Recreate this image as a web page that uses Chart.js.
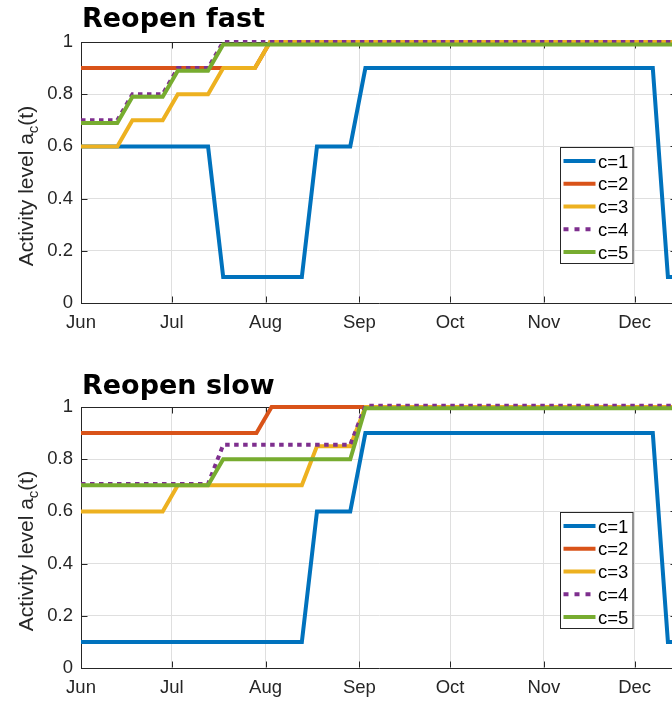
<!DOCTYPE html>
<html>
<head>
<meta charset="utf-8">
<script src="https://cdn.jsdelivr.net/npm/chart.js@4/dist/chart.umd.min.js"></script>
<style>
html,body{margin:0;padding:0;background:#fff;overflow:hidden;width:672px;height:702px;position:relative;}
.wrap{position:absolute;left:0;width:700px;height:351px;}
#w1{top:0;}
#w2{top:365px;}
canvas{display:block;}
</style>
</head>
<body>
<div class="wrap" id="w1"><canvas id="c1" width="700" height="351"></canvas></div>
<div class="wrap" id="w2"><canvas id="c2" width="700" height="351"></canvas></div>
<script>
// ---------- data (x = days since 1 June) ----------
const monthLabels = ['Jun', 'Jul', 'Aug', 'Sep', 'Oct', 'Nov', 'Dec'];
const monthStartDays = [0, 30, 61, 92, 122, 153, 183];
const xMaxDay = 197;
const seriesNames = ['c=1', 'c=2', 'c=3', 'c=4', 'c=5'];
const seriesColors = ['#0072BD', '#D95319', '#EDB120', '#7E2F8E', '#77AC30'];
const plotTitles = ['Reopen fast', 'Reopen slow'];
const yAxisLabel = ['Activity level a', 'c', '(t)'];

// Reopen fast
const fastC1Days = [0, 42, 47, 73, 78, 89, 94, 189, 194, 197];
const fastC1Vals = [0.6, 0.6, 0.1, 0.1, 0.6, 0.6, 0.9, 0.9, 0.1, 0.1];
const fastC2Days = [0, 57.5, 62.5, 197];
const fastC2Vals = [0.9, 0.9, 1, 1];
const fastC3Days = [0, 12, 17, 27, 32, 42, 47, 57.5, 62.5, 197];
const fastC3Vals = [0.6, 0.6, 0.7, 0.7, 0.8, 0.8, 0.9, 0.9, 1, 1];
const fastC4Days = [0, 12, 17, 27, 32, 42, 47, 197];
const fastC4Vals = [0.7, 0.7, 0.8, 0.8, 0.9, 0.9, 1, 1];
const fastC5Days = [0, 12, 17, 27, 32, 42, 47, 197];
const fastC5Vals = [0.69, 0.69, 0.79, 0.79, 0.89, 0.89, 0.99, 0.99];

// Reopen slow
const slowC1Days = [0, 73, 78, 89, 94, 189, 194, 197];
const slowC1Vals = [0.1, 0.1, 0.6, 0.6, 0.9, 0.9, 0.1, 0.1];
const slowC2Days = [0, 58, 63, 197];
const slowC2Vals = [0.9, 0.9, 1, 1];
const slowC3Days = [0, 27, 32, 73, 78, 89, 94, 197];
const slowC3Vals = [0.6, 0.6, 0.7, 0.7, 0.85, 0.85, 1, 1];
const slowC4Days = [0, 42, 47, 89, 94, 197];
const slowC4Vals = [0.705, 0.705, 0.855, 0.855, 1.005, 1.005];
const slowC5Days = [0, 42, 47, 89, 94, 197];
const slowC5Vals = [0.70, 0.70, 0.80, 0.80, 0.995, 0.995];

// ---------- helpers ----------
const pts = (xs, ys) => xs.map((x, i) => ({x: x, y: ys[i]}));
const AXIS = '#262626';
const GRID = '#dfdfdf';
const TICKFONT = {family: '"Liberation Sans", Arial, sans-serif', size: 18.5};

function makeDatasets(series) {
  return series.map((s, i) => ({
    label: seriesNames[i],
    data: pts(s[0], s[1]),
    borderColor: seriesColors[i],
    backgroundColor: seriesColors[i],
    borderWidth: 4,
    borderDash: i === 3 ? [4.5, 4.5] : [],
    pointRadius: 0,
    tension: 0,
    fill: false,
    clip: false,
    order: 5 - i
  }));
}

function decor(title, titleGap) {
  return {
    id: 'decor',
    beforeDatasetsDraw(chart) {
      const ctx = chart.ctx, a = chart.chartArea, xs = chart.scales.x, ys = chart.scales.y;
      const L = Math.round(a.left) + 0.5, R = Math.round(a.right) - 0.5;
      const T = Math.round(a.top) + 0.5, B = Math.round(a.bottom) - 0.5;
      const tl = 6;
      ctx.save();
      ctx.strokeStyle = AXIS; ctx.lineWidth = 1;
      ctx.beginPath();
      ctx.moveTo(L, T); ctx.lineTo(R, T); ctx.lineTo(R, B);
      ys.ticks.forEach(t => {
        const py = Math.round(ys.getPixelForValue(t.value)) + 0.5;
        ctx.moveTo(L, py); ctx.lineTo(L + tl, py);
        ctx.moveTo(R, py); ctx.lineTo(R - tl, py);
      });
      xs.ticks.forEach(t => {
        const px = Math.round(xs.getPixelForValue(t.value)) + 0.5;
        ctx.moveTo(px, B); ctx.lineTo(px, B - tl);
        ctx.moveTo(px, T); ctx.lineTo(px, T + tl);
      });
      ctx.stroke();
      ctx.restore();
    },
    afterDraw(chart) {
      const ctx = chart.ctx, a = chart.chartArea;
      ctx.save();
      // title
      ctx.fillStyle = '#000';
      ctx.font = 'bold 27px "DejaVu Sans", sans-serif';
      ctx.textAlign = 'left'; ctx.textBaseline = 'alphabetic';
      ctx.fillText(title, a.left + 1, a.top - titleGap);
      // y axis label with subscript
      const mainFont = '21px "Liberation Sans", Arial, sans-serif';
      const subFont = '15px "Liberation Sans", Arial, sans-serif';
      ctx.font = mainFont; const w1 = ctx.measureText(yAxisLabel[0]).width;
      const w3 = ctx.measureText(yAxisLabel[2]).width;
      ctx.font = subFont; const w2 = ctx.measureText(yAxisLabel[1]).width;
      const W = w1 + w2 + w3;
      ctx.translate(33, a.top + 144);
      ctx.rotate(-Math.PI / 2);
      ctx.fillStyle = AXIS;
      let x0 = -W / 2;
      ctx.font = mainFont; ctx.fillText(yAxisLabel[0], x0, 0);
      ctx.font = subFont; ctx.fillText(yAxisLabel[1], x0 + w1, 5);
      ctx.font = mainFont; ctx.fillText(yAxisLabel[2], x0 + w1 + w2, 0);
      ctx.restore();

      // legend
      ctx.save();
      const bw = 72.5, bh = 116;
      const bl = Math.round(a.right - 117) + 0.5, bt = Math.round(a.top + 105) + 0.5;
      ctx.fillStyle = '#fff';
      ctx.fillRect(bl, bt, bw, bh);
      ctx.strokeStyle = AXIS; ctx.lineWidth = 1;
      ctx.strokeRect(bl, bt, bw, bh);
      ctx.font = '18.5px "Liberation Sans", Arial, sans-serif';
      ctx.textAlign = 'left'; ctx.textBaseline = 'alphabetic';
      chart.data.datasets.forEach((ds, i) => {
        const ly = bt + 13.5 + i * 22.75;
        ctx.beginPath();
        ctx.strokeStyle = ds.borderColor;
        ctx.lineWidth = ds.borderWidth;
        ctx.setLineDash(ds.borderDash.length ? [5, 6] : []);
        ctx.moveTo(bl + 3, ly); ctx.lineTo(bl + 35, ly);
        ctx.stroke();
        ctx.setLineDash([]);
        ctx.fillStyle = '#000';
        ctx.fillText(ds.label, bl + 37.5, ly + 6.5);
      });
      ctx.restore();
    }
  };
}

function makeChart(id, series, title, titleGap) {
  return new Chart(document.getElementById(id), {
    type: 'line',
    data: {datasets: makeDatasets(series)},
    options: {
      responsive: false,
      animation: false,
      events: [],
      layout: {padding: {top: 42, left: 0, right: 23, bottom: 0}},
      plugins: {legend: {display: false}, tooltip: {enabled: false}, title: {display: false}},
      scales: {
        x: {
          type: 'linear', min: 0, max: xMaxDay,
          afterBuildTicks: (s) => { s.ticks = monthStartDays.map(v => ({value: v})); },
          afterFit: (s) => { s.height = 48; },
          ticks: {
            autoSkip: false, maxRotation: 0, padding: 9, color: AXIS, font: TICKFONT,
            callback: (v, i) => monthLabels[i]
          },
          grid: {color: GRID, lineWidth: 1, drawTicks: false},
          border: {display: true, color: AXIS, width: 1}
        },
        y: {
          type: 'linear', min: 0, max: 1,
          afterFit: (s) => { s.width = 81; },
          ticks: {
            stepSize: 0.2, padding: 8, color: AXIS, font: TICKFONT,
            callback: (v) => String(Number(v.toFixed(2)))
          },
          grid: {color: GRID, lineWidth: 1, drawTicks: false},
          border: {display: true, color: AXIS, width: 1}
        }
      }
    },
    plugins: [decor(title, titleGap)]
  });
}

makeChart('c1', [
  [fastC1Days, fastC1Vals], [fastC2Days, fastC2Vals], [fastC3Days, fastC3Vals],
  [fastC4Days, fastC4Vals], [fastC5Days, fastC5Vals]
], plotTitles[0], 15);

makeChart('c2', [
  [slowC1Days, slowC1Vals], [slowC2Days, slowC2Vals], [slowC3Days, slowC3Vals],
  [slowC4Days, slowC4Vals], [slowC5Days, slowC5Vals]
], plotTitles[1], 13.5);
</script>
</body>
</html>
